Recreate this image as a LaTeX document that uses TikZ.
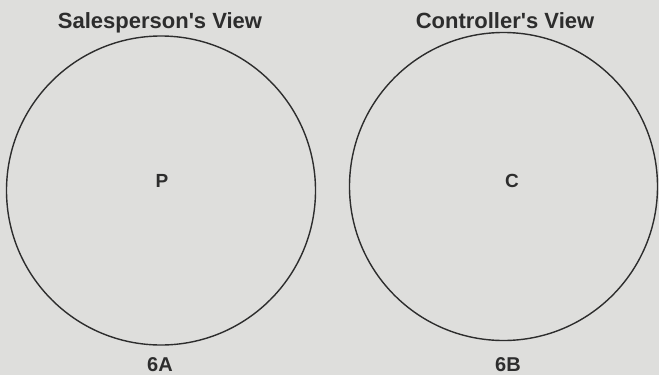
\documentclass[tikz,border=0pt]{standalone}
\usepackage{fontspec}
\setmainfont{Liberation Sans}
\definecolor{bg}{RGB}{222,222,220}
\definecolor{ink}{RGB}{45,45,45}
\begin{document}
\begin{tikzpicture}[x=1pt,y=-1pt,
  view/.style={circle,draw=ink,line width=1.4pt,inner sep=0pt},
  title/.style={text=ink,font=\bfseries\fontsize{22}{26}\selectfont,anchor=base},
  letter/.style={text=ink,font=\bfseries\fontsize{19}{24}\selectfont,anchor=base},
  caption/.style={text=ink,font=\bfseries\fontsize{20}{24}\selectfont,anchor=base}]
\fill[bg] (0,0) rectangle (659,375);
\useasboundingbox (0,0) rectangle (659,375);
\node[view,minimum size=309pt] (cA) at (161,190.5) {};
\node[view,minimum size=308pt] (cB) at (503.5,186.5) {};
\node[title] (tA) at (160,28) {Salesperson\textquotesingle s View};
\node[title] (tB) at (505,28) {Controller\textquotesingle s View};
\node[letter] (p) at (162,187) {P};
\node[letter] (c) at (512,187) {C};
\node[caption] (lA) at (160,371) {6A};
\node[caption] (lB) at (508,371) {6B};
\end{tikzpicture}
\end{document}
